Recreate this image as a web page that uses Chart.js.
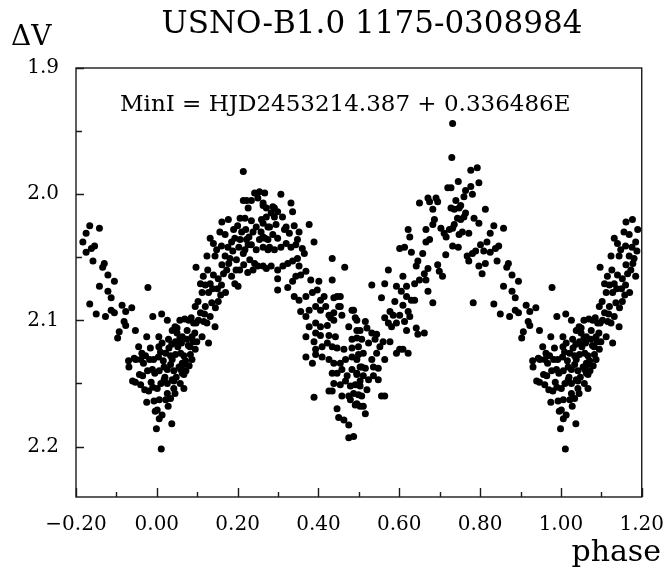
<!DOCTYPE html>
<html>
<head>
<meta charset="utf-8">
<script src="https://cdn.jsdelivr.net/npm/chart.js@4"></script>
<style>
  html, body { margin: 0; padding: 0; background: #fff; }
  canvas { display: block; }
</style>
</head>
<body>
<canvas id="lightCurve" width="672" height="572"></canvas>
<script>
const chartTitle = "USNO-B1.0 1175-0308984";
const yLabel = "\u0394V";
const xLabel = "phase";
const ephemeris = "MinI = HJD2453214.387 + 0.336486E";

const xTicks = [-0.2, 0.0, 0.2, 0.4, 0.6, 0.8, 1.0, 1.2];
const yTicks = [1.9, 2.0, 2.1, 2.2];

// [phase, delta V], one cycle (0..1)
const minPrimary = [
  [0.012, 2.095], [0.026, 2.100], [0.045, 2.105], [0.057, 2.100], [0.069, 2.099], [0.085, 2.098], [0.097, 2.102],
  [0.005, 2.113], [0.013, 2.118], [0.029, 2.115], [0.037, 2.119], [0.050, 2.110], [0.057, 2.114], [0.061, 2.118],
  [0.074, 2.115], [0.082, 2.121], [0.094, 2.110], [0.005, 2.121], [0.009, 2.125], [0.022, 2.126], [0.034, 2.128],
  [0.046, 2.127], [0.038, 2.131], [0.059, 2.126], [0.067, 2.128], [0.071, 2.132], [0.083, 2.127], [0.087, 2.131],
  [0.095, 2.123], [0.006, 2.140], [0.018, 2.137], [0.026, 2.139], [0.034, 2.135], [0.042, 2.140], [0.055, 2.137],
  [0.067, 2.135], [0.063, 2.142], [0.001, 2.154], [0.018, 2.147], [0.026, 2.150], [0.042, 2.148], [0.067, 2.154],
  [0.006, 2.163], [0.022, 2.163], [0.026, 2.158], [0.001, 2.171], [0.013, 2.175], [0.006, 2.178], [0.037, 2.182],
  [0.011, 2.202], [0.004, 2.129], [0.016, 2.132], [0.030, 2.122], [0.052, 2.121], [0.078, 2.120], [0.090, 2.117],
  [0.020, 2.145], [0.048, 2.145], [0.058, 2.150], [0.010, 2.150], [0.072, 2.140], [0.080, 2.136], [0.028, 2.168],
  [0.045, 2.158], [0.050, 2.106], [0.038, 2.108], [0.075, 2.108], [0.087, 2.113], [0.099, 2.117], [0.063, 2.113],
  [0.046, 2.117], [0.063, 2.134], [0.059, 2.139], [0.067, 2.143], [0.038, 2.147], [0.042, 2.154], [0.034, 2.162],
  [0.103, 2.100], [0.091, 2.102], [0.079, 2.100]
];

const risingBranch = [
  [0.214, 1.982], [0.254, 1.998], [0.242, 1.999], [0.267, 1.999], [0.234, 2.005], [0.214, 2.005], [0.250, 2.003],
  [0.263, 2.007], [0.271, 2.011], [0.226, 2.011], [0.206, 2.019], [0.218, 2.019], [0.234, 2.021], [0.259, 2.020],
  [0.246, 2.026], [0.275, 2.026], [0.161, 2.022], [0.177, 2.020], [0.156, 2.030], [0.169, 2.032], [0.193, 2.035],
  [0.185, 2.038], [0.206, 2.036], [0.222, 2.036], [0.234, 2.040], [0.254, 2.036], [0.246, 2.044], [0.263, 2.042],
  [0.275, 2.044], [0.132, 2.035], [0.140, 2.039], [0.148, 2.044], [0.124, 2.049], [0.144, 2.049], [0.169, 2.049],
  [0.181, 2.051], [0.197, 2.052], [0.214, 2.047], [0.230, 2.052], [0.242, 2.055], [0.250, 2.057], [0.263, 2.057],
  [0.161, 2.056], [0.173, 2.060], [0.185, 2.065], [0.193, 2.071], [0.201, 2.073], [0.140, 2.064], [0.152, 2.067],
  [0.132, 2.071], [0.120, 2.072], [0.108, 2.071], [0.097, 2.058], [0.128, 2.078], [0.112, 2.078], [0.152, 2.085],
  [0.136, 2.086], [0.120, 2.089], [0.095, 2.089], [0.108, 2.094], [0.132, 2.097], [0.144, 2.105], [0.124, 2.102],
  [0.116, 2.101], [0.128, 2.118], [0.112, 2.113], [0.190, 2.028], [0.200, 2.025], [0.210, 2.030], [0.220, 2.028],
  [0.228, 2.034], [0.238, 2.030], [0.258, 2.030], [0.268, 2.035], [0.203, 2.042], [0.218, 2.044], [0.226, 2.040],
  [0.188, 2.045], [0.176, 2.042], [0.160, 2.041], [0.165, 2.063], [0.178, 2.055], [0.205, 2.060], [0.196, 2.060],
  [0.215, 2.056], [0.225, 2.062], [0.238, 2.060], [0.150, 2.075], [0.160, 2.072], [0.170, 2.078], [0.145, 2.090],
  [0.158, 2.080], [0.118, 2.095], [0.102, 2.085], [0.138, 2.075], [0.126, 2.060], [0.115, 2.065], [0.222, 2.005]
];

const decliningBranch = [
  [0.263, 2.009], [0.287, 2.010], [0.291, 2.011], [0.332, 2.007], [0.336, 2.014], [0.307, 2.000], [0.377, 2.024],
  [0.389, 2.038], [0.434, 2.051], [0.465, 2.058], [0.434, 2.068], [0.299, 2.076], [0.324, 2.074], [0.271, 2.018],
  [0.291, 2.018], [0.263, 2.023], [0.279, 2.026], [0.295, 2.024], [0.320, 2.026], [0.483, 2.092], [0.491, 2.098],
  [0.389, 2.117], [0.369, 2.129], [0.385, 2.134], [0.389, 2.161], [0.426, 2.156], [0.446, 2.170], [0.450, 2.177],
  [0.463, 2.179], [0.475, 2.183], [0.475, 2.193], [0.487, 2.192], [0.283, 2.015], [0.299, 2.014], [0.311, 2.018],
  [0.316, 2.028], [0.328, 2.031], [0.340, 2.025], [0.352, 2.030], [0.348, 2.036],
  [0.263, 2.034], [0.275, 2.036], [0.287, 2.032], [0.299, 2.035], [0.279, 2.042], [0.291, 2.044], [0.307, 2.042],
  [0.320, 2.039], [0.332, 2.042], [0.344, 2.040], [0.360, 2.043], [0.365, 2.047], [0.271, 2.059], [0.283, 2.057],
  [0.299, 2.060], [0.312, 2.057], [0.324, 2.055], [0.336, 2.053], [0.348, 2.051], [0.352, 2.057], [0.299, 2.067],
  [0.336, 2.069], [0.344, 2.065], [0.356, 2.064], [0.369, 2.061], [0.381, 2.068], [0.401, 2.069], [0.340, 2.081],
  [0.352, 2.084], [0.369, 2.081], [0.385, 2.078], [0.397, 2.076], [0.405, 2.084], [0.414, 2.081], [0.438, 2.082],
  [0.454, 2.081], [0.356, 2.093], [0.369, 2.097], [0.377, 2.092], [0.393, 2.089], [0.405, 2.092], [0.418, 2.089],
  [0.426, 2.096], [0.438, 2.094], [0.454, 2.089], [0.458, 2.096], [0.377, 2.105], [0.393, 2.102], [0.405, 2.105],
  [0.422, 2.104], [0.430, 2.098], [0.438, 2.100], [0.475, 2.105], [0.487, 2.092], [0.495, 2.108], [0.369, 2.113],
  [0.393, 2.110], [0.405, 2.112], [0.426, 2.112], [0.442, 2.113], [0.483, 2.115], [0.495, 2.114], [0.393, 2.123],
  [0.409, 2.121], [0.422, 2.118], [0.434, 2.121], [0.446, 2.122], [0.463, 2.123], [0.483, 2.122], [0.499, 2.121],
  [0.393, 2.127], [0.409, 2.129], [0.426, 2.131], [0.438, 2.134], [0.454, 2.134], [0.467, 2.131], [0.483, 2.129],
  [0.499, 2.127], [0.434, 2.142], [0.446, 2.142], [0.458, 2.139], [0.471, 2.144], [0.483, 2.139], [0.495, 2.143],
  [0.507, 2.137], [0.438, 2.150], [0.454, 2.151], [0.467, 2.148], [0.479, 2.152], [0.491, 2.151], [0.503, 2.148],
  [0.434, 2.156], [0.458, 2.160], [0.475, 2.160], [0.487, 2.158], [0.499, 2.159], [0.479, 2.163], [0.491, 2.167],
  [0.503, 2.168], [0.446, 2.081], [0.450, 2.089]
];

const risingToMaxII = [
  [0.720, 1.995], [0.650, 2.007], [0.671, 2.003], [0.675, 2.006], [0.691, 2.003], [0.695, 2.006], [0.683, 2.012],
  [0.687, 2.020], [0.683, 2.024], [0.666, 2.028], [0.703, 2.027], [0.711, 2.031], [0.724, 2.028], [0.716, 2.034],
  [0.622, 2.028], [0.626, 2.034], [0.675, 2.036], [0.666, 2.038], [0.601, 2.043], [0.613, 2.042], [0.630, 2.046],
  [0.658, 2.047], [0.646, 2.053], [0.642, 2.057], [0.671, 2.059], [0.662, 2.063], [0.715, 2.048], [0.695, 2.056],
  [0.699, 2.061], [0.707, 2.065], [0.573, 2.060], [0.532, 2.072], [0.564, 2.071], [0.609, 2.065], [0.593, 2.073],
  [0.618, 2.073], [0.638, 2.071], [0.650, 2.068], [0.666, 2.068], [0.605, 2.077], [0.618, 2.081], [0.630, 2.084],
  [0.638, 2.084], [0.671, 2.077], [0.683, 2.086], [0.556, 2.082], [0.589, 2.085], [0.609, 2.088], [0.577, 2.093],
  [0.585, 2.096], [0.601, 2.096], [0.622, 2.093], [0.626, 2.097], [0.564, 2.098], [0.573, 2.102], [0.581, 2.105],
  [0.593, 2.102], [0.613, 2.101], [0.618, 2.108], [0.642, 2.106], [0.662, 2.110], [0.646, 2.111],
  [0.495, 2.100], [0.516, 2.101], [0.503, 2.108], [0.520, 2.106], [0.532, 2.110], [0.544, 2.111], [0.507, 2.115],
  [0.524, 2.118], [0.540, 2.115], [0.552, 2.121], [0.560, 2.117], [0.577, 2.117], [0.601, 2.123], [0.609, 2.123],
  [0.622, 2.126], [0.593, 2.126], [0.564, 2.131], [0.544, 2.126], [0.532, 2.131], [0.511, 2.126], [0.495, 2.131],
  [0.503, 2.137], [0.516, 2.138], [0.536, 2.137], [0.548, 2.138], [0.495, 2.142], [0.511, 2.144], [0.524, 2.147],
  [0.536, 2.144], [0.548, 2.147], [0.503, 2.152], [0.520, 2.155], [0.507, 2.160], [0.556, 2.160], [0.564, 2.160],
  [0.495, 2.166], [0.511, 2.168], [0.516, 2.174]
];

const maxSecondary = [
  [0.732, 1.944], [0.730, 1.971], [0.793, 1.979], [0.777, 1.981], [0.746, 1.990], [0.797, 1.991], [0.728, 1.995],
  [0.764, 1.997], [0.777, 1.994], [0.781, 2.000], [0.760, 2.002], [0.740, 2.005], [0.752, 2.009], [0.748, 2.011],
  [0.728, 2.011], [0.736, 2.012], [0.813, 2.012], [0.764, 2.015], [0.760, 2.018], [0.744, 2.019], [0.752, 2.020],
  [0.785, 2.019], [0.797, 2.023], [0.736, 2.024], [0.732, 2.027], [0.834, 2.025], [0.858, 2.027], [0.756, 2.030],
  [0.748, 2.032], [0.772, 2.031], [0.825, 2.031], [0.817, 2.038], [0.732, 2.041], [0.746, 2.042], [0.801, 2.040],
  [0.846, 2.041], [0.838, 2.043], [0.789, 2.045], [0.781, 2.047], [0.809, 2.045], [0.825, 2.046], [0.768, 2.049],
  [0.772, 2.053], [0.797, 2.057], [0.805, 2.063], [0.813, 2.055], [0.842, 2.053], [0.870, 2.055], [0.866, 2.058],
  [0.879, 2.064], [0.858, 2.073], [0.879, 2.077], [0.783, 2.086], [0.834, 2.087], [0.850, 2.095], [0.873, 2.097]
];

const descentToMinI = [
  [0.895, 2.069], [0.887, 2.082], [0.887, 2.092], [0.895, 2.094], [0.903, 2.114], [0.907, 2.109], [0.914, 2.088],
  [0.919, 2.101], [0.923, 2.093], [0.923, 2.104], [0.938, 2.090], [0.930, 2.132], [0.931, 2.137], [0.944, 2.130],
  [0.947, 2.108], [0.948, 2.131], [0.947, 2.149], [0.955, 2.121], [0.957, 2.143], [0.960, 2.131], [0.960, 2.151],
  [0.965, 2.144], [0.967, 2.134], [0.970, 2.155], [0.975, 2.113], [0.975, 2.165], [0.977, 2.140], [0.978, 2.074],
  [0.980, 2.156], [0.984, 2.122], [0.986, 2.149], [0.989, 2.139], [0.990, 2.097], [0.990, 2.153], [0.992, 2.131],
  [0.993, 2.164], [0.995, 2.142], [0.996, 2.172], [0.999, 2.186], [0.940, 2.148], [0.963, 2.126], [0.982, 2.131],
  [0.972, 2.128]
];

// the folded curve is shown from phase -0.185 to 1.19, so points near 0 and 1 repeat
const foldStart = -0.185;
const foldEnd = 1.19;
const observations = [].concat(minPrimary, risingBranch, decliningBranch, risingToMaxII, maxSecondary, descentToMinI);
const points = [];
observations.forEach(([p, dv]) => {
  points.push({ x: p, y: dv });
  if (p + 1 <= foldEnd) points.push({ x: p + 1, y: dv });
  if (p - 1 >= foldStart) points.push({ x: p - 1, y: dv });
});

const serif = "'DejaVu Serif', 'Liberation Serif', serif";

// inward tick marks, full frame, title and axis captions
const frameAndLabels = {
  id: "frameAndLabels",
  afterDraw(chart) {
    const { ctx, chartArea: a, scales } = chart;
    const xs = scales.x, ys = scales.y;
    ctx.save();
    ctx.strokeStyle = "#1a1a1a";
    ctx.lineWidth = 1.4;
    ctx.strokeRect(a.left, a.top, a.right - a.left, a.bottom - a.top);

    ctx.beginPath();
    xs.ticks.forEach((t, i) => {
      const px = Math.round(xs.getPixelForValue(t.value)) + 0.5;
      ctx.moveTo(px, a.bottom);
      ctx.lineTo(px, a.bottom - 9);
      if (i < xs.ticks.length - 1) {
        const mid = Math.round(xs.getPixelForValue((t.value + xs.ticks[i + 1].value) / 2)) + 0.5;
        ctx.moveTo(mid, a.bottom);
        ctx.lineTo(mid, a.bottom - 5);
      }
    });
    ys.ticks.forEach((t, i) => {
      const py = Math.round(ys.getPixelForValue(t.value)) + 0.5;
      ctx.moveTo(a.left, py);
      ctx.lineTo(a.left + 8, py);
      if (i < ys.ticks.length - 1) {
        const mid = Math.round(ys.getPixelForValue((t.value + ys.ticks[i + 1].value) / 2)) + 0.5;
        ctx.moveTo(a.left, mid);
        ctx.lineTo(a.left + 6, mid);
      }
    });
    ctx.stroke();

    ctx.fillStyle = "#000";
    ctx.textBaseline = "alphabetic";
    ctx.font = "31px " + serif;
    ctx.textAlign = "center";
    ctx.fillText(chartTitle, 372, 33);

    ctx.textAlign = "left";
    ctx.font = "28px " + serif;
    ctx.fillText(yLabel, 11, 45);

    ctx.textAlign = "right";
    ctx.font = "30px " + serif;
    ctx.fillText(xLabel, 661, 561);

    ctx.textAlign = "left";
    ctx.font = "23px " + serif;
    ctx.fillText(ephemeris, 120, 111);
    ctx.restore();
  }
};

new Chart(document.getElementById("lightCurve"), {
  type: "scatter",
  data: {
    datasets: [{
      data: points,
      pointRadius: 3.5,
      pointBackgroundColor: "#000",
      pointBorderWidth: 0,
      pointHoverRadius: 3.5
    }]
  },
  options: {
    responsive: false,
    animation: false,
    layout: { padding: { top: 68, right: 24, left: 0, bottom: 0 } },
    plugins: { legend: { display: false }, tooltip: { enabled: false } },
    scales: {
      x: {
        type: "linear",
        min: xTicks[0],
        max: xTicks[xTicks.length - 1],
        afterFit(scale) { scale.height = 75; },
        afterBuildTicks(scale) { scale.ticks = xTicks.map(v => ({ value: v })); },
        grid: { display: false },
        border: { display: false },
        ticks: {
          autoSkip: false,
          maxRotation: 0,
          padding: 8,
          color: "#000",
          font: { family: serif, size: 20 },
          callback: v => (v < -1e-9 ? "\u2212" : "") + Math.abs(v).toFixed(2)
        }
      },
      y: {
        type: "linear",
        reverse: true,
        min: 1.9,
        max: 2.24,
        afterFit(scale) { scale.width = 76; },
        afterBuildTicks(scale) { scale.ticks = yTicks.map(v => ({ value: v })); },
        grid: { display: false },
        border: { display: false },
        ticks: {
          padding: 9,
          color: "#000",
          font: { family: serif, size: 20 },
          callback: v => v.toFixed(1)
        }
      }
    }
  },
  plugins: [frameAndLabels]
});
</script>
</body>
</html>
